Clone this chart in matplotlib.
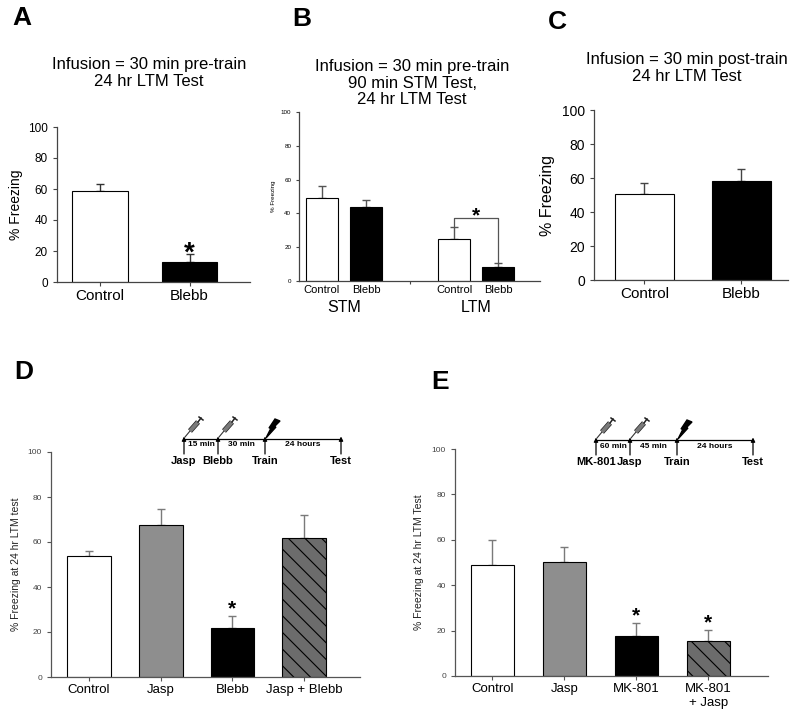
import matplotlib
matplotlib.use("Agg")
import matplotlib.pyplot as plt
import matplotlib.patheffects as pe
import numpy as np

plt.rcParams['font.family'] = ['Liberation Sans', 'DejaVu Sans']
plt.rcParams['hatch.linewidth'] = 0.8

# ---- data ----
a_labels = ['Control', 'Blebb']
a_vals = [58.5, 13.0]
a_errs = [4.5, 5.0]

b_labels = ['Control', 'Blebb', 'Control', 'Blebb']
b_groups = ['STM', 'LTM']
b_vals = [48.9, 44.0, 24.8, 8.1]
b_errs = [7.3, 3.9, 7.0, 2.4]

c_labels = ['Control', 'Blebb']
c_vals = [50.5, 58.0]
c_errs = [6.3, 7.2]

d_labels = ['Control', 'Jasp', 'Blebb', 'Jasp + Blebb']
d_vals = [54.0, 67.5, 22.0, 62.0]
d_errs = [2.1, 7.0, 5.0, 10.1]

e_labels = ['Control', 'Jasp', 'MK-801', 'MK-801\n+ Jasp']
e_vals = [49.0, 50.4, 17.5, 15.6]
e_errs = [11.0, 6.6, 6.0, 4.7]

d_events = ['Jasp', 'Blebb', 'Train', 'Test']
d_gaps = ['15 min', '30 min', '24 hours']
e_events = ['MK-801', 'Jasp', 'Train', 'Test']
e_gaps = ['60 min', '45 min', '24 hours']

W, H = 800, 722
fig = plt.figure(figsize=(W / 100, H / 100), dpi=100)


def px_axes(x0, y0, x1, y1):
    return fig.add_axes([x0 / W, 1 - y1 / H, (x1 - x0) / W, (y1 - y0) / H])


def style_axes(ax, tick_fs, tick_color, spine_color):
    for s in ['top', 'right']:
        ax.spines[s].set_visible(False)
    for s in ['left', 'bottom']:
        ax.spines[s].set_color(spine_color)
        ax.spines[s].set_linewidth(0.9)
    ax.set_ylim(0, 100)
    ax.set_yticks(np.arange(0, 101, 20))
    ax.tick_params(axis='y', labelsize=tick_fs, colors=spine_color,
                   labelcolor=tick_color, length=3, width=0.8)
    ax.tick_params(axis='x', colors=spine_color, labelcolor='black',
                   length=3, width=0.8, pad=2)


def draw_bars(ax, pos, vals, errs, colors, width, ecolor, hatches=None):
    ax.errorbar(pos, vals, yerr=[np.zeros(len(errs)), errs], fmt='none',
                ecolor=ecolor, elinewidth=1.0, capsize=3, capthick=1.0, zorder=1)
    bars = ax.bar(pos, vals, width, color=colors, edgecolor='black',
                  linewidth=0.8, zorder=2)
    if hatches:
        for b, h in zip(bars, hatches):
            if h:
                b.set_hatch(h)
    return bars


def star(ax, x, y, fs):
    ax.annotate('*', xy=(x, y), xytext=(0, -0.58 * fs), textcoords='offset points',
                ha='center', va='baseline', fontsize=fs, fontweight='bold')


# ---- panel A ----
axA = px_axes(57, 127, 250, 282)
style_axes(axA, 8.5, 'black', '#444444')
posA = np.arange(len(a_vals))
draw_bars(axA, posA, a_vals, a_errs, ['white', 'black'], 0.62, '#333333')
axA.set_xlim(-0.48, 1.675)
axA.set_xticks(posA)
axA.set_xticklabels(a_labels, fontsize=11)
axA.set_ylabel('% Freezing', fontsize=10)
axA.yaxis.set_label_coords(-0.176, 0.5)
star(axA, 1, 24, 20)

# ---- panel B ----
axB = px_axes(299, 112, 540, 281)
style_axes(axB, 4.5, 'black', '#444444')
axB.tick_params(axis='y', length=2)
posB = np.array([0, 1, 3, 4])
draw_bars(axB, posB, b_vals, b_errs, ['white', 'black', 'white', 'black'], 0.73, '#555555')
axB.set_xlim(-0.52, 4.95)
axB.set_xticks([2])
axB.set_xticklabels([])
axB.tick_params(axis='x', length=2)
for p, lab in zip(posB, b_labels):
    axB.text(p, -2.5, lab, ha='center', va='top', fontsize=8)
for p, g in zip([0.5, 3.5], b_groups):
    axB.text(p, -11, g, ha='center', va='top', fontsize=11.5)
axB.set_ylabel('% Freezing', fontsize=4.5)
axB.yaxis.set_label_coords(-0.095, 0.5)
# significance bracket between LTM bars
axB.plot([3, 3, 4, 4], [31.8, 37, 37, 11.5], color='#555555', lw=0.9,
         clip_on=False, zorder=3)
star(axB, 3.5, 42.3, 15)

# ---- panel C ----
axC = px_axes(594, 110, 788, 280)
style_axes(axC, 10, 'black', '#444444')
posC = np.arange(len(c_vals))
draw_bars(axC, posC, c_vals, c_errs, ['white', 'black'], 0.6, '#444444')
axC.set_xlim(-0.52, 1.48)
axC.set_xticks(posC)
axC.set_xticklabels(c_labels, fontsize=11)
axC.set_ylabel('% Freezing', fontsize=11.5)
axC.yaxis.set_label_coords(-0.20, 0.5)

# ---- panel D ----
axD = px_axes(51, 452, 360, 677)
style_axes(axD, 6, '#444444', '#555555')
posD = np.arange(len(d_vals))
draw_bars(axD, posD, d_vals, d_errs, ['white', '#8e8e8e', 'black', '#6c6c6c'],
          0.61, '#7a7a7a', hatches=[None, None, None, '\\\\'])
axD.set_xlim(-0.53, 3.78)
axD.set_xticks(posD)
axD.set_xticklabels(d_labels, fontsize=9.5)
axD.set_ylabel('% Freezing at 24 hr LTM test', fontsize=7.5, color='#222222')
axD.yaxis.set_label_coords(-0.097, 0.5)
star(axD, 2, 33.1, 15)

# ---- panel E ----
axE = px_axes(455, 449, 768, 676)
style_axes(axE, 6, '#444444', '#555555')
posE = np.arange(len(e_vals))
draw_bars(axE, posE, e_vals, e_errs, ['white', '#8e8e8e', 'black', '#6c6c6c'],
          0.6, '#7a7a7a', hatches=[None, None, None, '\\\\'])
axE.set_xlim(-0.52, 3.83)
axE.set_xticks(posE)
axE.set_xticklabels(e_labels, fontsize=9.5, linespacing=1.25, va='top')
axE.set_ylabel('% Freezing at 24 hr LTM Test', fontsize=7.5, color='#222222')
axE.yaxis.set_label_coords(-0.099, 0.5)
star(axE, 2, 29.2, 15)
star(axE, 3, 26.4, 15)

# ---- overlay: letters, titles, timelines ----
ov = fig.add_axes([0, 0, 1, 1])
ov.set_xlim(0, W)
ov.set_ylim(H, 0)
ov.axis('off')
ov.patch.set_alpha(0)

for lab, x, y in [('A', 22, 18), ('B', 302, 19), ('C', 557, 22), ('D', 24, 372), ('E', 440, 382)]:
    ov.text(x, y, lab, ha='center', va='center', fontsize=19, fontweight='bold')

ov.text(149, 73, 'Infusion = 30 min pre-train\n24 hr LTM Test', ha='center',
        va='center', fontsize=12, linespacing=1.2)
ov.text(412, 83, 'Infusion = 30 min pre-train\n90 min STM Test,\n24 hr LTM Test',
        ha='center', va='center', fontsize=12, linespacing=1.15)
ov.text(687, 68, 'Infusion = 30 min post-train\n24 hr LTM Test', ha='center',
        va='center', fontsize=12, linespacing=1.15)


def syringe(x0, y0):
    # needle
    ov.plot([x0 + 1, x0 + 6], [y0 - 2, y0 - 8], color='#333333', lw=0.8)
    # barrel
    ov.plot([x0 + 6, x0 + 14], [y0 - 8, y0 - 17], color='#7a7a7a', lw=2.8,
            solid_capstyle='butt',
            path_effects=[pe.Stroke(linewidth=3.8, foreground='#222222'), pe.Normal()])
    # plunger
    ov.plot([x0 + 14, x0 + 17], [y0 - 17, y0 - 21], color='#222222', lw=1.1)
    ov.plot([x0 + 15, x0 + 19], [y0 - 22, y0 - 19], color='#222222', lw=1.1)


def bolt(x0, y0):
    pts = np.array([[0, 0], [5, -10], [3, -10], [9, -19], [14, -17], [8, -11],
                    [10, -11]]) + [x0 + 1, y0 - 1]
    ov.add_patch(plt.Polygon(pts, closed=True, color='black'))


def timeline(xs, y, events, gaps, syringes):
    ov.plot([xs[0], xs[-1]], [y, y], color='black', lw=0.9)
    for x, ev in zip(xs, events):
        ov.annotate('', xy=(x, y - 2.5), xytext=(x, y + 15),
                    arrowprops=dict(arrowstyle='-|>', lw=0.9, color='black',
                                    mutation_scale=6, shrinkA=0, shrinkB=0))
        ov.text(x, y + 22, ev, ha='center', va='center', fontsize=8,
                fontweight='bold')
    for i, g in enumerate(gaps):
        ov.text((xs[i] + xs[i + 1]) / 2, y + 6, g, ha='center', va='center',
                fontsize=6, fontweight='bold')
    for x in xs[:syringes]:
        syringe(x, y)
    bolt(xs[syringes], y)


timeline([184, 218, 265, 341], 439, d_events, d_gaps, 2)
timeline([596, 630, 677, 753], 440, e_events, e_gaps, 2)

fig.savefig('out.png', dpi=100)
